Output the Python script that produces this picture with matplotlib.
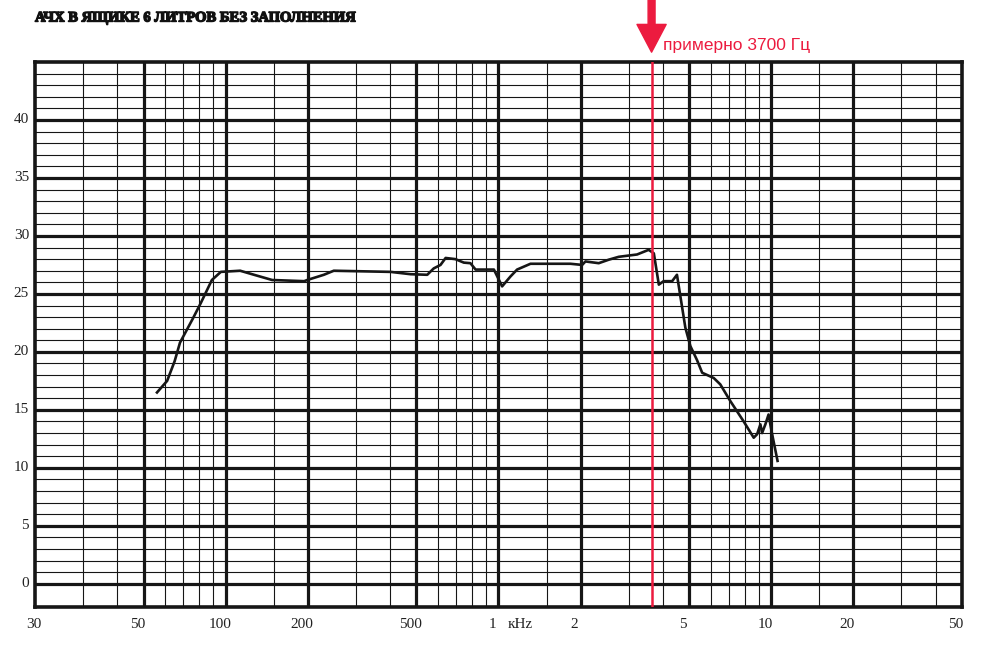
"""Frequency response of a 6 l box without filling (recreated chart)."""

import matplotlib

matplotlib.use("Agg")
import matplotlib.pyplot as plt
import matplotlib.patheffects as pe
from matplotlib.transforms import offset_copy

freq_hz = [56, 61, 65, 68, 75.5, 81, 89, 96, 113, 127, 148, 194, 199, 229, 249,
           402, 476, 548, 579, 613, 640, 695, 746, 789, 824, 962, 1031, 1106,
           1170, 1310, 1836, 2026, 2083, 2330, 2535, 2760, 3220, 3550, 3710,
           3870, 4030, 4330, 4510, 4840, 5050, 5340, 5580, 6150, 6500, 7080,
           7920, 8620, 8870, 9120, 9250, 9510, 9770, 10050, 10540]
spl_db = [16.5, 17.5, 19.2, 20.8, 22.8, 24.2, 26.2, 26.9, 27.0, 26.65, 26.2,
          26.1, 26.2, 26.65, 27.0, 26.9, 26.7, 26.65, 27.2, 27.5, 28.1, 28.0,
          27.7, 27.65, 27.1, 27.1, 25.65, 26.5, 27.1, 27.6, 27.6, 27.5, 27.8,
          27.65, 27.95, 28.2, 28.4, 28.8, 28.5, 25.8, 26.1, 26.1, 26.65, 22.1,
          20.5, 19.3, 18.2, 17.75, 17.2, 15.75, 14.0, 12.6, 12.9, 13.75, 13.0,
          13.75, 14.6, 13.0, 10.6]

x_major = [50, 100, 200, 500, 1000, 2000, 5000, 10000, 20000]
x_minor = [30, 40, 60, 70, 80, 90, 150, 300, 400, 600, 700, 800, 900,
           1500, 3000, 4000, 6000, 7000, 8000, 9000, 15000, 30000, 40000]
# label text and the frequency it sits under (the "30" sits at the 20 Hz edge)
x_label_pos = [20, 50, 100, 200, 500, 1000, 2000, 5000, 10000, 20000, 50000]
x_label_txt = ["30", "50", "100", "200", "500", "1", "2", "5", "10", "20", "50"]
y_major = [0, 5, 10, 15, 20, 25, 30, 35, 40]
y_minor = [v for v in range(0, 46) if v % 5 != 0]

marker_freq = 3640  # where the red line is actually drawn
marker_text = "примерно 3700 Гц"
title = "АЧХ В ЯЩИКЕ 6 ЛИТРОВ БЕЗ ЗАПОЛНЕНИЯ"

RED = "#ec1b3f"
INK = "#161616"

fig = plt.figure(figsize=(9.88, 6.57), dpi=100)
ax = fig.add_axes([35 / 988, 1 - 607 / 657, 927 / 988, 545 / 657])
ax.set_xscale("log")
ax.set_xlim(20, 50000)
ax.set_ylim(-2, 45)

# grid: heavy lines at majors, thin at minors
for f in x_major:
    ax.axvline(f, color=INK, lw=2.3, zorder=1)
for f in x_minor:
    ax.axvline(f, color=INK, lw=0.8, zorder=1)
for v in y_major:
    ax.axhline(v, color=INK, lw=2.3, zorder=1)
for v in y_minor:
    ax.axhline(v, color=INK, lw=0.8, zorder=1)

for side in ax.spines.values():
    side.set_linewidth(2.6)
    side.set_color(INK)
ax.set_xticks([])
ax.set_yticks([])
ax.minorticks_off()

serif = ["Liberation Serif", "DejaVu Serif"]

# x labels a few pixels left of their grid lines
xl_trans = offset_copy(ax.get_xaxis_transform(), fig=fig, x=-6, y=0, units="dots")
for f, t in zip(x_label_pos, x_label_txt):
    dx = 5 if f == 20 else 0
    ax.text(f, -0.033, t, transform=offset_copy(xl_trans, fig=fig, x=dx, units="dots"),
            ha="center", va="center", fontsize=11, family=serif, color="#222222")
ax.text(1000, -0.033, "кHz",
        transform=offset_copy(ax.get_xaxis_transform(), fig=fig, x=22, units="dots"),
        ha="center", va="center", fontsize=11, family=serif, color="#222222")

yl_trans = offset_copy(ax.get_yaxis_transform(), fig=fig, x=-6, y=0, units="dots")
for v in y_major:
    ax.text(0, v, str(v), transform=yl_trans, ha="right", va="center",
            fontsize=11, family=serif, color="#222222")

# response curve
ax.plot(freq_hz, spl_db, color=INK, lw=1.9, solid_joinstyle="round", zorder=3)

# red marker line, arrow and note
ax.axvline(marker_freq, color=RED, lw=1.8, zorder=4)
ax.annotate("", xy=(marker_freq, 1.018), xycoords=("data", "axes fraction"),
            xytext=(marker_freq, 1.118), textcoords=("data", "axes fraction"),
            arrowprops=dict(facecolor=RED, edgecolor=RED, width=5.0,
                            headwidth=21, headlength=20),
            annotation_clip=False)
ax.text(marker_freq, 1.022, marker_text,
        transform=offset_copy(ax.get_xaxis_transform(), fig=fig, x=11, units="dots"),
        ha="left", va="baseline", fontsize=12.5, color=RED,
        family=["Liberation Sans", "DejaVu Sans"])

fig.text(35 / 988, 1 - 18 / 657, title, ha="left", va="center",
         fontsize=10.5, fontweight="bold", family=serif, color="#111111",
         path_effects=[pe.withStroke(linewidth=1.0, foreground="#111111")])

fig.savefig("out.png", dpi=100)
